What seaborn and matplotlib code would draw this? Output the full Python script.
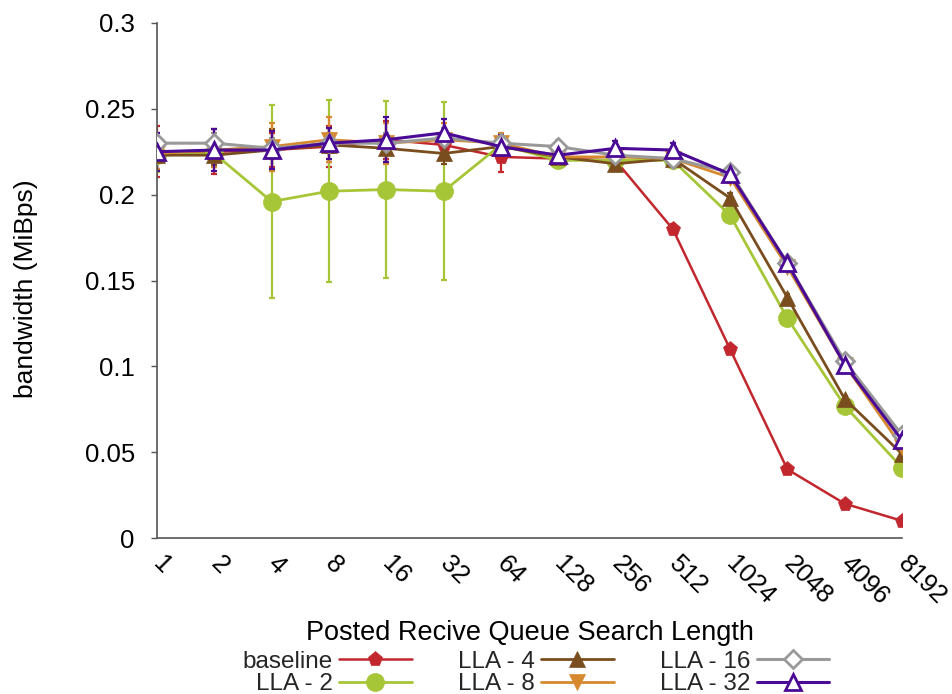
import numpy as np
import pandas as pd
import matplotlib
matplotlib.use("Agg")
import matplotlib.pyplot as plt
import seaborn as sns
from matplotlib.ticker import FuncFormatter

categories = ["1", "2", "4", "8", "16", "32", "64", "128", "256", "512",
              "1024", "2048", "4096", "8192"]

baseline = [0.225, 0.225, 0.226, 0.228, 0.232, 0.229, 0.222, 0.221, 0.220,
            0.180, 0.110, 0.040, 0.020, 0.010]
lla2 = [0.223, 0.224, 0.196, 0.202, 0.203, 0.202, 0.229, 0.220, 0.220,
        0.220, 0.188, 0.128, 0.077, 0.041]
lla4 = [0.223, 0.223, 0.226, 0.229, 0.227, 0.224, 0.228, 0.222, 0.218,
        0.221, 0.198, 0.140, 0.081, 0.049]
lla8 = [0.224, 0.226, 0.228, 0.232, 0.230, 0.232, 0.230, 0.222, 0.222,
        0.221, 0.210, 0.158, 0.101, 0.053]
lla16 = [0.230, 0.230, 0.227, 0.230, 0.230, 0.233, 0.230, 0.228, 0.223,
         0.221, 0.213, 0.160, 0.103, 0.060]
lla32 = [0.225, 0.226, 0.226, 0.230, 0.232, 0.236, 0.228, 0.223, 0.227,
         0.226, 0.212, 0.160, 0.101, 0.057]

err_baseline = [0.015, 0.013, 0.010, 0.012, 0.011, 0.008, 0.009, 0.005, 0.004,
                0.003, 0.002, 0.002, 0.001, 0.001]
err_lla2 = [0.010, 0.008, 0.056, 0.053, 0.0515, 0.052, 0.005, 0.004, 0.003,
            0.003, 0.003, 0.002, 0.002, 0.001]
err_lla4 = [0.008, 0.006, 0.012, 0.010, 0.008, 0.006, 0.005, 0.004, 0.004,
            0.003, 0.003, 0.002, 0.002, 0.001]
err_lla8 = [0.009, 0.010, 0.014, 0.013, 0.012, 0.010, 0.006, 0.004, 0.004,
            0.004, 0.003, 0.002, 0.002, 0.002]
err_lla16 = [0.006, 0.006, 0.006, 0.006, 0.006, 0.006, 0.005, 0.004, 0.003,
             0.003, 0.003, 0.002, 0.002, 0.002]
err_lla32 = [0.011, 0.012, 0.011, 0.009, 0.013, 0.008, 0.007, 0.005, 0.004,
             0.004, 0.004, 0.003, 0.002, 0.002]

series_names = ["baseline", "LLA - 2", "LLA - 4", "LLA - 8", "LLA - 16", "LLA - 32"]
series_vals = [baseline, lla2, lla4, lla8, lla16, lla32]
series_errs = [err_baseline, err_lla2, err_lla4, err_lla8, err_lla16, err_lla32]

colors = ["#c1272d", "#a6c638", "#7a4d1e", "#d6892f", "#999999", "#4b0a96"]
markers = ["p", "o", "^", "v", "D", "^"]
filled = [True, True, True, True, False, False]
msizes = [11, 13, 11, 11, 9, 12]
lwidths = [1.8, 2.0, 2.0, 2.0, 2.2, 2.2]

sns.set_theme(style="white")
plt.rcParams["font.family"] = ["Liberation Sans", "DejaVu Sans"]

fig = plt.figure(figsize=(9.53, 6.94), dpi=100)
ax = fig.add_axes([157 / 953, 1 - 538 / 694, (902 - 157) / 953, (538 - 23) / 694])

xpos = np.arange(len(categories))
for name, vals, errs, c, m, f, ms, lw in zip(series_names, series_vals, series_errs,
                                              colors, markers, filled, msizes, lwidths):
    ax.errorbar(xpos, vals, yerr=errs, fmt="none", ecolor=c, elinewidth=1.6,
                capsize=2.5, capthick=1.6, zorder=2)
    df = pd.DataFrame({"x": xpos, "y": vals})
    sns.lineplot(data=df, x="x", y="y", ax=ax, color=c, linewidth=lw,
                 marker=m, markersize=ms, markeredgewidth=2.0 if not f else 0.5,
                 markerfacecolor=c if f else "white", markeredgecolor=c,
                 label=name, zorder=3)

handles, labels = ax.get_legend_handles_labels()
if ax.get_legend() is not None:
    ax.get_legend().remove()

ax.set_xlim(0, 13)
ax.set_ylim(0, 0.3)
ax.set_yticks([0, 0.05, 0.1, 0.15, 0.2, 0.25, 0.3])
ax.yaxis.set_major_formatter(FuncFormatter(lambda v, p: "%g" % round(v, 3)))
ax.set_xticks(xpos)
ax.set_xticklabels(categories, rotation=-45, ha="left", va="center",
                   rotation_mode="anchor")

for s in ["top", "right"]:
    ax.spines[s].set_visible(False)
for s in ["left", "bottom"]:
    ax.spines[s].set_color("#555555")
    ax.spines[s].set_linewidth(1.2)

ax.tick_params(axis="y", which="major", left=True, length=4, width=1.0,
               color="#555555", pad=12, labelsize=18.5, labelcolor="black")
ax.tick_params(axis="x", which="major", bottom=False, length=0, pad=16,
               labelsize=18.5, labelcolor="black")

ax.set_ylabel("bandwidth (MiBps)", fontsize=19, color="black")
ax.yaxis.set_label_coords(-0.160, 0.485)
ax.set_xlabel("Posted Recive Queue Search Length", fontsize=19.5, color="black")
ax.xaxis.set_label_coords(0.5, -0.16)

leg = fig.legend(handles, labels, loc="center", bbox_to_anchor=(536 / 953, 1 - 673 / 694),
                 ncol=3, markerfirst=False, frameon=False, fontsize=17.5,
                 handlelength=3.0, handletextpad=0.25, columnspacing=1.9,
                 labelspacing=0.0, borderpad=0)

fig.savefig("out.png", dpi=100)
